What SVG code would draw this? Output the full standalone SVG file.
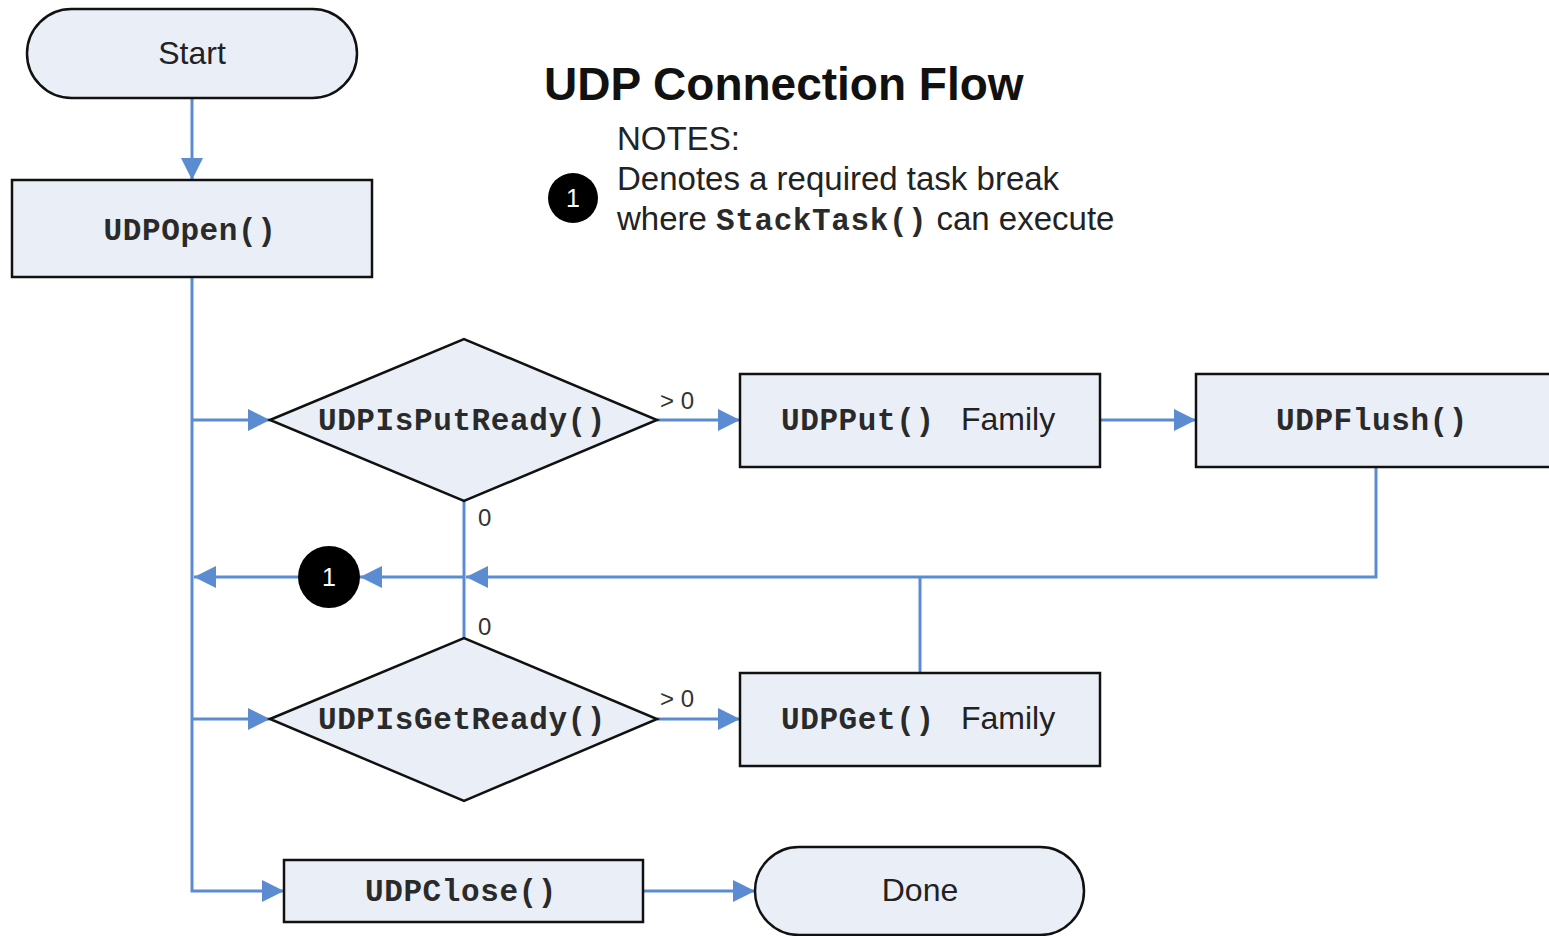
<svg xmlns="http://www.w3.org/2000/svg" width="1549" height="936" viewBox="0 0 1549 936">
  <style>
    .shape { fill: #eaeff7; stroke: #111; stroke-width: 2.5; }
    .flow { fill: none; stroke: #5b8bd0; stroke-width: 3; }
    .mono { font-family: "Liberation Mono", "Courier New", monospace; font-weight: bold; font-size: 31px; letter-spacing: 0.6px; fill: #2a2a2a; }
    .sans { font-family: "Liberation Sans", Arial, sans-serif; font-size: 32px; fill: #222; }
    .note { font-family: "Liberation Sans", Arial, sans-serif; font-size: 33px; fill: #222; }
    .lbl { font-family: "Liberation Sans", Arial, sans-serif; font-size: 24px; fill: #333; }
    .dot { fill: #000; }
    .dotnum { font-family: "Liberation Sans", Arial, sans-serif; font-size: 25px; fill: #fff; text-anchor: middle; }
  </style>
  <defs>
    <marker id="arrow" viewBox="0 0 22 22" refX="22" refY="11" markerWidth="22" markerHeight="22" orient="auto" markerUnits="userSpaceOnUse">
      <path d="M0,0 L22,11 L0,22 z" fill="#5b8bd0"/>
    </marker>
  </defs>

  <rect width="1549" height="936" fill="#fff"/>

  <!-- title and legend -->
  <g id="title">
    <text x="544" y="100" font-family="Liberation Sans, Arial, sans-serif" font-weight="bold" font-size="46" fill="#111">UDP Connection Flow</text>
  </g>
  <g id="notes">
    <text class="note" x="617" y="150">NOTES:</text>
    <circle class="dot" cx="573" cy="198" r="25"/>
    <text class="dotnum" x="573" y="207">1</text>
    <text class="note" x="617" y="190">Denotes a required task break</text>
    <text class="note" x="617" y="230">where <tspan class="mono">StackTask()</tspan> can execute</text>
  </g>

  <!-- connectors -->
  <g id="connectors">
    <path class="flow" d="M192,98 V180" marker-end="url(#arrow)"/>
    <path class="flow" d="M192,277 V891 H284" marker-end="url(#arrow)"/>
    <path class="flow" d="M192,420 H270" marker-end="url(#arrow)"/>
    <path class="flow" d="M192,719 H270" marker-end="url(#arrow)"/>
    <path class="flow" d="M657,420 H740" marker-end="url(#arrow)"/>
    <path class="flow" d="M1100,420 H1196" marker-end="url(#arrow)"/>
    <path class="flow" d="M657,719 H740" marker-end="url(#arrow)"/>
    <path class="flow" d="M1376,467 V577 H466" marker-end="url(#arrow)"/>
    <path class="flow" d="M920,673 V577"/>
    <path class="flow" d="M464,501 V638"/>
    <path class="flow" d="M464,577 H360" marker-end="url(#arrow)"/>
    <path class="flow" d="M298,577 H194" marker-end="url(#arrow)"/>
    <path class="flow" d="M643,891 H755" marker-end="url(#arrow)"/>
    <text class="lbl" x="660" y="409">&gt; 0</text>
    <text class="lbl" x="660" y="707">&gt; 0</text>
    <text class="lbl" x="478" y="526">0</text>
    <text class="lbl" x="478" y="635">0</text>
  </g>

  <!-- nodes -->
  <g id="start">
    <rect class="shape" x="27" y="9" width="330" height="89" rx="44.5"/>
    <text class="sans" x="192" y="64" text-anchor="middle">Start</text>
  </g>
  <g id="udp-open">
    <rect class="shape" x="12" y="180" width="360" height="97"/>
    <text class="mono" x="190" y="240" text-anchor="middle">UDPOpen()</text>
  </g>
  <g id="udp-is-put-ready">
    <polygon class="shape" points="270,420 464,339 657,420 464,501"/>
    <text class="mono" x="462" y="430" text-anchor="middle">UDPIsPutReady()</text>
  </g>
  <g id="udp-put">
    <rect class="shape" x="740" y="374" width="360" height="93"/>
    <text x="781" y="430"><tspan class="mono">UDPPut()</tspan><tspan class="sans" x="961">Family</tspan></text>
  </g>
  <g id="udp-flush">
    <rect class="shape" x="1196" y="374" width="360" height="93"/>
    <text class="mono" x="1372" y="430" text-anchor="middle">UDPFlush()</text>
  </g>
  <g id="task-break">
    <circle class="dot" cx="329" cy="577" r="31"/>
    <text class="dotnum" x="329" y="586">1</text>
  </g>
  <g id="udp-is-get-ready">
    <polygon class="shape" points="270,719 464,638 657,719 464,801"/>
    <text class="mono" x="462" y="729" text-anchor="middle">UDPIsGetReady()</text>
  </g>
  <g id="udp-get">
    <rect class="shape" x="740" y="673" width="360" height="93"/>
    <text x="781" y="729"><tspan class="mono">UDPGet()</tspan><tspan class="sans" x="961">Family</tspan></text>
  </g>
  <g id="udp-close">
    <rect class="shape" x="284" y="860" width="359" height="62"/>
    <text class="mono" x="461" y="901" text-anchor="middle">UDPClose()</text>
  </g>
  <g id="done">
    <rect class="shape" x="755" y="847" width="329" height="88" rx="44"/>
    <text class="sans" x="920" y="901" text-anchor="middle">Done</text>
  </g>
</svg>
